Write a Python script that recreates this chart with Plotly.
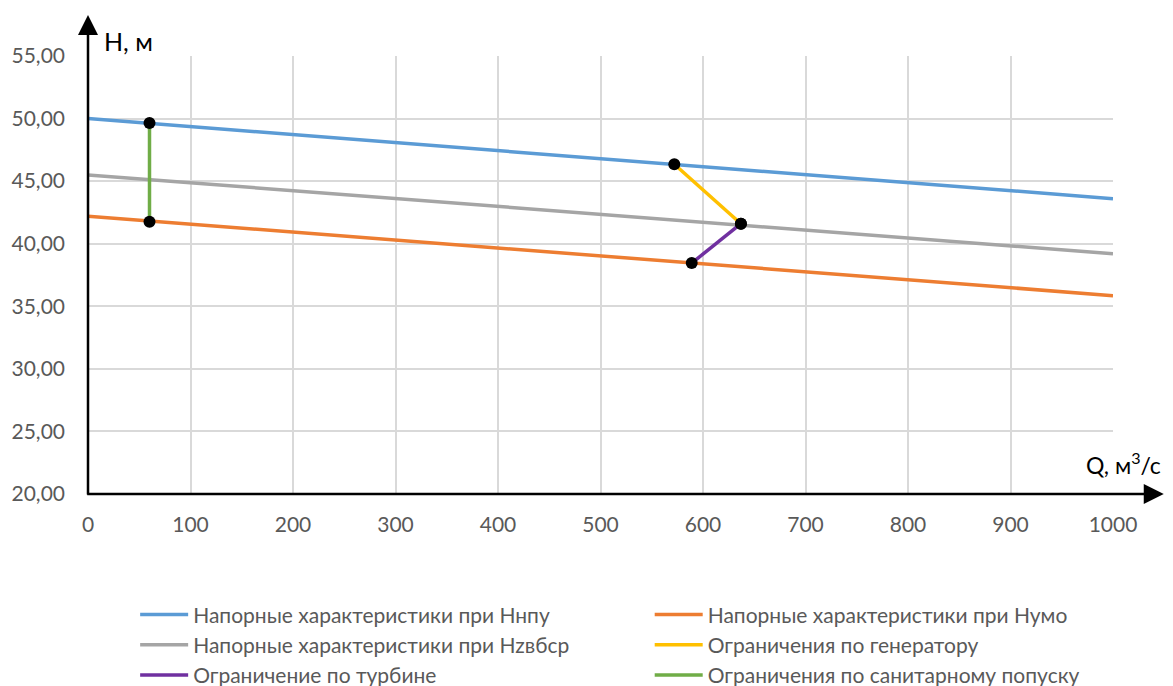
import plotly.graph_objects as go

# ---- data ----
q = [0, 100, 200, 300, 400, 500, 600, 700, 800, 900, 1000]
h_nnpu = [50.00, 49.36, 48.72, 48.08, 47.44, 46.80, 46.16, 45.52, 44.88, 44.24, 43.60]
h_numo = [42.20, 41.57, 40.93, 40.30, 39.66, 39.03, 38.39, 37.76, 37.12, 36.49, 35.85]
h_zvb = [45.50, 44.87, 44.24, 43.61, 42.98, 42.35, 41.72, 41.09, 40.46, 39.83, 39.20]

gen_q = [572, 637]
gen_h = [46.35, 41.60]
turb_q = [637, 589]
turb_h = [41.60, 38.45]
san_q = [60, 60]
san_h = [49.65, 41.75]

names = [
    "Напорные характеристики при Ннпу",
    "Напорные характеристики при Нумо",
    "Напорные характеристики при Hzвбср",
    "Ограничения по генератору",
    "Ограничение по турбине",
    "Ограничения по санитарному попуску",
]
colors = ["#5b9bd5", "#ed7d31", "#a5a5a5", "#ffc000", "#7030a0", "#70ad47"]
legend_col = ["legend", "legend2", "legend", "legend2", "legend", "legend2"]

y_ticks = [20, 25, 30, 35, 40, 45, 50, 55]
x_ticks = [0, 100, 200, 300, 400, 500, 600, 700, 800, 900, 1000]

FONT = "Lato, 'Open Sans', sans-serif"

fig = go.Figure()
series = [
    (q, h_nnpu), (q, h_numo), (q, h_zvb),
    (gen_q, gen_h), (turb_q, turb_h), (san_q, san_h),
]
for (xs, ys), n, c, lg in zip(series, names, colors, legend_col):
    fig.add_trace(go.Scatter(x=xs, y=ys, mode="lines", name=n, legend=lg,
                             line=dict(color=c, width=3.5)))
for xs, ys in series[3:]:
    fig.add_trace(go.Scatter(x=xs, y=ys, mode="markers", showlegend=False,
                             marker=dict(color="black", size=12), hoverinfo="skip"))

leg_common = dict(orientation="v", yanchor="top", xanchor="left",
                  font=dict(family=FONT, size=21, color="#595959"),
                  itemwidth=48, tracegroupgap=0, bgcolor="rgba(0,0,0,0)")

fig.update_layout(
    width=1165, height=678,
    margin=dict(l=80, r=60, t=48, b=192, autoexpand=False),
    paper_bgcolor="white", plot_bgcolor="white",
    separators=", ",
    font=dict(family=FONT, size=20, color="#595959"),
    legend=dict(x=0.046, y=-0.229, **leg_common),
    legend2=dict(x=0.548, y=-0.229, **leg_common),
    xaxis=dict(range=[0, 1000], tickvals=x_ticks, ticktext=[str(v) for v in x_ticks],
               showgrid=True, gridcolor="#d9d9d9", gridwidth=1.5,
               zeroline=False, showline=False, ticks="", ticklabelstandoff=16,
               tickfont=dict(family=FONT, size=21, color="#595959")),
    yaxis=dict(range=[20, 55], tickvals=y_ticks, tickformat=".2f",
               showgrid=True, gridcolor="#d9d9d9", gridwidth=1.5,
               zeroline=False, showline=False, ticks="", ticklabelstandoff=22,
               tickfont=dict(family=FONT, size=21, color="#595959")),
)

# axis arrows
fig.add_annotation(x=1.0495, y=0, xref="paper", yref="paper", text="",
                   showarrow=True, arrowhead=2, arrowsize=1.6, arrowwidth=2.5,
                   arrowcolor="black", ax=-1078, ay=0)
fig.add_annotation(x=0, y=1.0936, xref="paper", yref="paper", text="",
                   showarrow=True, arrowhead=2, arrowsize=1.6, arrowwidth=2.5,
                   arrowcolor="black", ax=0, ay=481)
# axis titles
fig.add_annotation(x=0.014, y=0.995, xref="paper", yref="paper", text="H, м",
                   showarrow=False, xanchor="left", yanchor="bottom",
                   font=dict(family=FONT, size=25, color="black"))
fig.add_annotation(x=1.0485, y=0.03, xref="paper", yref="paper", text="Q, м<sup>3</sup>/с",
                   showarrow=False, xanchor="right", yanchor="bottom",
                   font=dict(family=FONT, size=23, color="black"))

fig.write_html("out.html")
